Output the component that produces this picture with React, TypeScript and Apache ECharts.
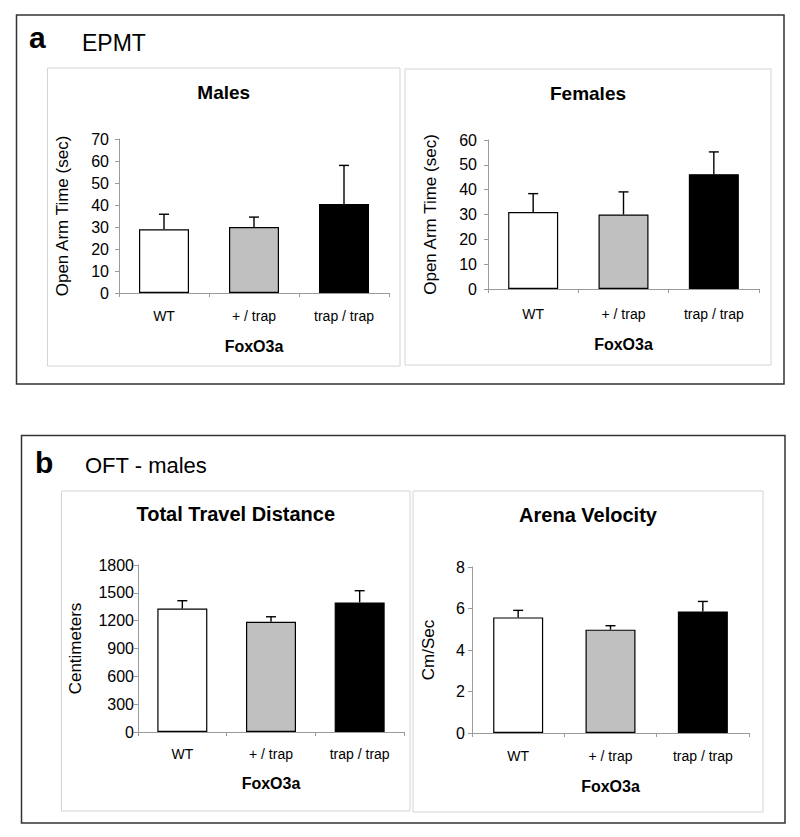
import React, { useEffect, useRef } from "react";
import * as echarts from "echarts";

const categories = ["WT", "+ / trap", "trap / trap"];
const malesMean = [29, 30, 40.5];
const malesSem = [6.8, 4.5, 17.5];
const femalesMean = [31, 30, 46.2];
const femalesSem = [7.4, 9.1, 9.0];
const distanceMean = [1330, 1188, 1397];
const distanceSem = [85, 54, 126];
const velocityMean = [5.57, 4.98, 5.86];
const velocitySem = [0.34, 0.19, 0.48];
const barColors = ["#ffffff", "#c0c0c0", "#000000"];

const FONT = "'Liberation Sans', Arial, Helvetica, sans-serif";

type Panel = {
  title: string;
  yName: string;
  xName: string;
  mean: number[];
  sem: number[];
  max: number;
  interval: number;
  grid: { left: number; top: number; width: number; height: number };
  box: { x: number; y: number; w: number; h: number };
  titleY: number;
  nameGap: number;
  labelMargin: number;
  yLabelMargin: number;
  xNameGap: number;
  titleSize: number;
};

const panels: Panel[] = [
  {
    title: "Males",
    yName: "Open Arm Time (sec)",
    xName: "FoxO3a",
    mean: malesMean,
    sem: malesSem,
    max: 70,
    interval: 10,
    grid: { left: 119, top: 139, width: 270, height: 154 },
    box: { x: 47.5, y: 68, w: 352.5, h: 298 },
    titleY: 92,
    nameGap: 48,
    labelMargin: 16,
    yLabelMargin: 10,
    xNameGap: 45,
    titleSize: 19,
  },
  {
    title: "Females",
    yName: "Open Arm Time (sec)",
    xName: "FoxO3a",
    mean: femalesMean,
    sem: femalesSem,
    max: 60,
    interval: 10,
    grid: { left: 488, top: 140, width: 271, height: 149 },
    box: { x: 405, y: 69, w: 366, h: 296 },
    titleY: 93,
    nameGap: 49,
    labelMargin: 18,
    yLabelMargin: 11,
    xNameGap: 47,
    titleSize: 19,
  },
  {
    title: "Total Travel Distance",
    yName: "Centimeters",
    xName: "FoxO3a",
    mean: distanceMean,
    sem: distanceSem,
    max: 1800,
    interval: 300,
    grid: { left: 138, top: 565, width: 266, height: 167 },
    box: { x: 61.5, y: 491, w: 348.5, h: 320 },
    titleY: 514,
    nameGap: 54,
    labelMargin: 15,
    yLabelMargin: 4,
    xNameGap: 43,
    titleSize: 20,
  },
  {
    title: "Arena Velocity",
    yName: "Cm/Sec",
    xName: "FoxO3a",
    mean: velocityMean,
    sem: velocitySem,
    max: 8,
    interval: 2,
    grid: { left: 472, top: 567, width: 277, height: 166 },
    box: { x: 413, y: 491, w: 350, h: 321 },
    titleY: 515,
    nameGap: 35,
    labelMargin: 16,
    yLabelMargin: 7,
    xNameGap: 45,
    titleSize: 20,
  },
];

export default function App() {
  const ref = useRef<HTMLDivElement>(null);

  useEffect(() => {
    if (!ref.current) return;
    const chart = echarts.init(ref.current, null, { renderer: "svg" });

    const grids: any[] = [];
    const xAxes: any[] = [];
    const yAxes: any[] = [];
    const series: any[] = [];
    const graphics: any[] = [];

    graphics.push({
      type: "rect",
      shape: { x: 16.5, y: 15, width: 767.5, height: 369 },
      style: { fill: "none", stroke: "#333", lineWidth: 1.5 },
      silent: true,
    });
    graphics.push({
      type: "rect",
      shape: { x: 21.5, y: 435.5, width: 763.5, height: 387.5 },
      style: { fill: "none", stroke: "#333", lineWidth: 1.5 },
      silent: true,
    });
    graphics.push({
      type: "text",
      x: 29,
      y: 37.5,
      style: { text: "a", font: `bold 30px ${FONT}`, fill: "#000", verticalAlign: "middle" },
    });
    graphics.push({
      type: "text",
      x: 82,
      y: 43,
      style: { text: "EPMT", font: `23px ${FONT}`, fill: "#000", verticalAlign: "middle" },
    });
    graphics.push({
      type: "text",
      x: 35,
      y: 462.5,
      style: { text: "b", font: `bold 30px ${FONT}`, fill: "#000", verticalAlign: "middle" },
    });
    graphics.push({
      type: "text",
      x: 85,
      y: 465,
      style: { text: "OFT - males", font: `22px ${FONT}`, fill: "#000", verticalAlign: "middle" },
    });

    panels.forEach((p, i) => {
      graphics.push({
        type: "rect",
        shape: { x: p.box.x, y: p.box.y, width: p.box.w, height: p.box.h },
        style: { fill: "none", stroke: "#d4d4d4", lineWidth: 1 },
        silent: true,
      });
      graphics.push({
        type: "text",
        x: p.box.x + p.box.w / 2,
        y: p.titleY,
        style: {
          text: p.title,
          font: `bold ${p.titleSize}px ${FONT}`,
          fill: "#000",
          align: "center",
          verticalAlign: "middle",
        },
      });

      grids.push({ ...p.grid, containLabel: false });
      xAxes.push({
        type: "category",
        gridIndex: i,
        data: categories,
        name: p.xName,
        nameLocation: "middle",
        nameGap: p.xNameGap,
        nameTextStyle: { fontFamily: FONT, fontWeight: "bold", fontSize: 16, color: "#000" },
        axisLine: { show: true, lineStyle: { color: "#9a9a9a", width: 1 } },
        axisTick: { show: true, length: 4, lineStyle: { color: "#9a9a9a" } },
        axisLabel: { fontFamily: FONT, fontSize: 14, color: "#000", margin: p.labelMargin },
        splitLine: { show: false },
      });
      yAxes.push({
        type: "value",
        gridIndex: i,
        min: 0,
        max: p.max,
        interval: p.interval,
        name: p.yName,
        nameLocation: "middle",
        nameGap: p.nameGap,
        nameTextStyle: { fontFamily: FONT, fontSize: 17, color: "#000" },
        axisLine: { show: true, lineStyle: { color: "#9a9a9a", width: 1 } },
        axisTick: { show: true, length: 4, lineStyle: { color: "#9a9a9a" } },
        axisLabel: {
          fontFamily: FONT,
          fontSize: 16,
          color: "#000",
          margin: p.yLabelMargin,
          formatter: (v: number) => String(v),
        },
        splitLine: { show: false },
      });
      series.push({
        type: "bar",
        xAxisIndex: i,
        yAxisIndex: i,
        barWidth: 50,
        data: p.mean.map((v, k) => ({
          value: v,
          itemStyle: { color: barColors[k], borderColor: "#000", borderWidth: 1.2 },
        })),
        z: 2,
      });
      series.push({
        type: "custom",
        xAxisIndex: i,
        yAxisIndex: i,
        z: 3,
        data: p.mean.map((v, k) => [k, v, p.sem[k]]),
        encode: { x: 0, y: 1 },
        renderItem: (params: any, api: any) => {
          const x = api.value(0);
          const m = api.value(1);
          const s = api.value(2);
          const a = api.coord([x, m]);
          const b = api.coord([x, m + s]);
          const st = { stroke: "#000", lineWidth: 1.4 };
          return {
            type: "group",
            children: [
              { type: "line", shape: { x1: a[0], y1: a[1], x2: b[0], y2: b[1] }, style: st },
              { type: "line", shape: { x1: b[0] - 5, y1: b[1], x2: b[0] + 5, y2: b[1] }, style: st },
            ],
          };
        },
      });
    });

    chart.setOption({
      animation: false,
      backgroundColor: "#ffffff",
      textStyle: { fontFamily: FONT },
      grid: grids,
      xAxis: xAxes,
      yAxis: yAxes,
      series,
      graphic: graphics,
    });

    return () => chart.dispose();
  }, []);

  return (
    <div
      ref={ref}
      style={{ position: "absolute", left: 0, top: 0, width: 800, height: 837, background: "#fff" }}
    />
  );
}
